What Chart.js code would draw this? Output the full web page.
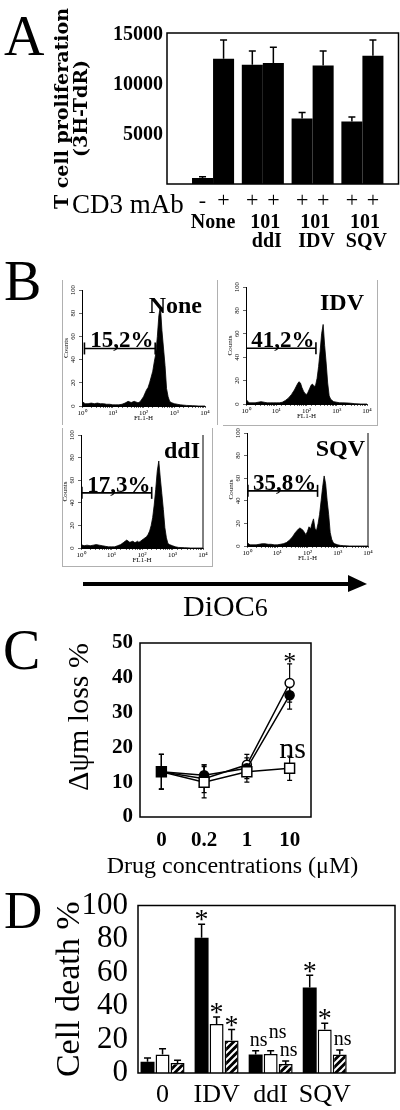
<!DOCTYPE html>
<html><head><meta charset="utf-8">
<script src="https://cdn.jsdelivr.net/npm/chart.js@4.4.1/dist/chart.umd.min.js"></script>
<style>
html,body{margin:0;padding:0;background:#fff;}
body{position:relative;width:400px;height:1110px;overflow:hidden;}
canvas{position:absolute;}
.lt{position:absolute;font-family:"Liberation Serif","Times New Roman",serif;color:#000;line-height:1;white-space:nowrap;}
.gb{position:absolute;background:#b0b0b0;}
</style></head><body>
<div class="lt" style="left:4px;top:8px;font-size:56px">A</div>
<div class="lt" style="left:4px;top:253px;font-size:56px">B</div>
<div class="lt" style="left:3px;top:622px;font-size:56px">C</div>
<div class="lt" style="left:4px;top:884px;font-size:53px">D</div>

<div class="gb" style="left:62px;top:280px;width:1px;height:145px"></div>
<div class="gb" style="left:217px;top:280px;width:1px;height:145px"></div>
<div class="gb" style="left:377px;top:280px;width:1px;height:145px"></div>
<div class="gb" style="left:223px;top:425px;width:155px;height:1px"></div>
<div class="gb" style="left:62px;top:428px;width:1px;height:138px"></div>
<div class="gb" style="left:62px;top:566px;width:151px;height:1px"></div>
<div class="gb" style="left:212px;top:428px;width:1px;height:138px"></div>

<canvas id="cA" width="400" height="252" style="left:0;top:0"></canvas>
<canvas id="cB1" width="151" height="140" style="left:62px;top:282px"></canvas>
<canvas id="cB2" width="149" height="141" style="left:226px;top:279px"></canvas>
<canvas id="cB3" width="150" height="137" style="left:61px;top:427px"></canvas>
<canvas id="cB4" width="149" height="137" style="left:227px;top:425px"></canvas>
<canvas id="cC" width="400" height="265" style="left:0;top:620px"></canvas>
<canvas id="cD" width="400" height="230" style="left:0;top:880px"></canvas>

<svg style="position:absolute;left:0;top:560px" width="400" height="40">
  <line x1="83" y1="24" x2="352" y2="24" stroke="#000" stroke-width="4"/>
  <polygon points="348,15 367,24 348,32" fill="#000"/>
</svg>
<div class="lt" style="left:183px;top:591px;font-size:30px">DiOC<span style="font-size:26px">6</span></div>

<script>
const SERIF = '"Liberation Serif", "Times New Roman", serif';
const WIDE = '"DejaVu Serif", serif';
const sup = ['\u2070', '\u00B9', '\u00B2', '\u00B3', '\u2074'];

// ---------- Panel A : T cell proliferation ----------
const groupsA = ['None', 'ddI', 'IDV', 'SQV'];
const cd3SignsA = ['-', '+', '+', '+', '+', '+', '+', '+'];
const concA = ['', '', '10', '1', '10', '1', '10', '1'];
const firstBarA = [600, 12000, 6600, 6300];
const firstErrA = [120, 1400, 600, 450];
const secondBarA = [12600, 12170, 11930, 12900];
const secondErrA = [1900, 1600, 1450, 1600];
const yTicksA = [5000, 10000, 15000];

// ---------- Panel B : DiOC6 histograms ----------
const flChannels = [1, 1.26, 1.58, 2, 2.51, 3.16, 3.98, 5.01, 6.31, 7.94,
  10, 12.6, 15.8, 20, 25.1, 31.6, 39.8, 50.1, 56.2, 63.1, 70.8, 79.4, 89.1,
  100, 112, 126, 141, 158, 178, 200, 224, 251, 282, 316, 355, 398, 447, 501,
  562, 631, 708, 794, 1000, 1259, 1585, 2512, 3981, 6310, 10000];
const countsNone = [4,2,2,2.5,2,2.5,2,2,1.5,1.5, 1,1,1,1.5,2.5,4,3,4, 3.5,3,3,4,6,
  8,11,14,16,20,25,30,38,45,60, 78,86,65,50,35,15,8,4,3, 2,1.5,1,0.5,0.3,0,0];
const countsIDV = [4,1,1,1,1.5,2,1.5,1,1,1, 1,1,1.5,3,5,8,12,17, 19,18,14,11,9,
  8,10,13,16,17,15,16,22,32,45, 60,68,50,35,18,7,4,3,2, 1.5,1,1,0.8,0.3,0,0];
const countsDdI = [3,2,2.5,2,2.5,3,2.5,2,1.5,1, 1,1,2,3,5,7,5,6, 5,5,6,5,6,
  7,8,9,10,12,15,20,27,38,52, 68,77,62,48,34,18,9,4,3, 2,1,0.5,0.3,0,0,0];
const countsSQV = [3,1,1,1,1.5,2,2,1.5,1.5,1, 1,1.5,2,3,5,8,12,15, 16,15,14,12,10,
  13,17,15,20,24,15,14,20,28,40, 52,62,55,40,28,12,6,3,2, 1,0.5,0.3,0,0,0,0];
const sampleNames = ['None', 'IDV', 'ddI', 'SQV'];
const gatePercents = ['15,2%', '41,2%', '17,3%', '35,8%'];
const gateStart = [1.2, 1.0, 1.07, 1.07];
const gateEnd = [240, 205, 208, 215];
const gateLevel = [49.6, 47.6, 48.8, 48.8];

// ---------- Panel C : mitochondrial potential loss ----------
const concC = ['0', '0.2', '1', '10'];
const ddiC = [13, 10, 13, 14];
const ddiErrC = [5, 4.5, 3, 3.5];
const sqvC = [13, 12, 14, 35];
const sqvErrC = [5, 3, 3, 4];
const idvC = [13, 11, 15, 38.5];
const idvErrC = [5, 4, 3, 5.5];
const sigIdvC = ['', '', '', '*'];
const sigDdiC = ['', '', '', 'ns'];

// ---------- Panel D : cell death ----------
const groupsD = ['0', 'IDV', 'ddI', 'SQV'];
const blackD = [6.7, 80.8, 11, 51];
const blackErrD = [2.3, 8, 2.3, 7.3];
const whiteD = [11, 29.3, 11.4, 25.9];
const whiteErrD = [3.5, 4.2, 1.9, 3.8];
const hatchD = [6, 19.4, 5.3, 11];
const hatchErrD = [1.6, 6.6, 1.9, 2.7];
const sigBlackD = ['', '*', 'ns', '*'];
const sigWhiteD = ['', '*', 'ns', '*'];
const sigHatchD = ['', '*', 'ns', 'ns'];

Chart.defaults.animation = false;
Chart.defaults.color = '#000';
Chart.defaults.font.family = SERIF;

const valOf = d => (d !== null && typeof d === 'object') ? d.y : d;

const errPlugin = {
  id: 'err',
  beforeDatasetsDraw(chart, args, opts) {
    const ctx = chart.ctx, ys = chart.scales.y;
    chart.data.datasets.forEach((ds, di) => {
      if (!ds.errors) return;
      const meta = chart.getDatasetMeta(di);
      ctx.save(); ctx.strokeStyle = '#000'; ctx.lineWidth = opts.width || 1.5;
      meta.data.forEach((el, i) => {
        const v = valOf(ds.data[i]), e = ds.errors[i];
        const yTop = ys.getPixelForValue(v + e);
        const yBot = ys.getPixelForValue(opts.both ? v - e : v);
        const x = el.x, c = opts.cap;
        ctx.beginPath();
        ctx.moveTo(x, yBot); ctx.lineTo(x, yTop);
        ctx.moveTo(x - c, yTop); ctx.lineTo(x + c, yTop);
        if (opts.both) { ctx.moveTo(x - c, yBot); ctx.lineTo(x + c, yBot); }
        ctx.stroke();
      });
      ctx.restore();
    });
  }
};

const frame = {
  id: 'frame',
  afterDraw(chart, args, opts) {
    const a = chart.chartArea, ctx = chart.ctx;
    ctx.save(); ctx.strokeStyle = '#000'; ctx.lineWidth = opts.width || 1.5;
    ctx.strokeRect(a.left, a.top, a.right - a.left, a.bottom - a.top);
    ctx.restore();
  }
};

const sigPlugin = {
  id: 'sig',
  afterDatasetsDraw(chart, args, opts) {
    const ctx = chart.ctx, ys = chart.scales.y;
    chart.data.datasets.forEach((ds, di) => {
      if (!ds.sig) return;
      const els = chart.getDatasetMeta(di).data;
      ds.sig.forEach((t, i) => {
        if (!t) return;
        const top = ys.getPixelForValue(valOf(ds.data[i]) + (ds.errors ? ds.errors[i] : 0));
        ctx.save(); ctx.fillStyle = '#000'; ctx.textAlign = 'center'; ctx.textBaseline = 'alphabetic';
        if (t === '*') {
          ctx.font = opts.starSize + 'px ' + SERIF;
          ctx.fillText('*', els[i].x + (opts.starDx || 0), top - (ds.starGap ?? opts.starGap) + 0.47 * opts.starSize);
        } else {
          ctx.font = opts.nsSize + 'px ' + SERIF;
          ctx.fillText(t, els[i].x + (ds.nsDx ?? opts.nsDx), top - (ds.nsGap ?? opts.nsGap));
        }
        ctx.restore();
      });
    });
  }
};

// free axis title drawn without width squeezing
const xTitle = {
  id: 'xTitle',
  afterDraw(chart, args, opts) {
    const a = chart.chartArea, ctx = chart.ctx;
    ctx.save(); ctx.fillStyle = '#000'; ctx.font = opts.font; ctx.textAlign = 'center'; ctx.textBaseline = 'alphabetic';
    ctx.fillText(opts.text, (a.left + a.right) / 2 + opts.dx, a.bottom + opts.dy);
    ctx.restore();
  }
};

// ---------- Panel A chart ----------
const labelsA = {
  id: 'labelsA',
  afterDraw(chart) {
    const ctx = chart.ctx, a = chart.chartArea;
    const m0 = chart.getDatasetMeta(0).data, m1 = chart.getDatasetMeta(1).data;
    ctx.save(); ctx.fillStyle = '#000';
    ctx.textAlign = 'left'; ctx.textBaseline = 'alphabetic';
    ctx.font = '27px ' + SERIF;
    ctx.fillText('CD3 mAb', 72, a.bottom + 29);
    ctx.textAlign = 'center'; ctx.textBaseline = 'middle';
    ctx.font = '22px ' + SERIF;
    groupsA.forEach((g, i) => {
      ctx.fillText(cd3SignsA[2 * i], m0[i].x, a.bottom + 17);
      ctx.fillText(cd3SignsA[2 * i + 1], m1[i].x, a.bottom + 17);
    });
    ctx.textBaseline = 'alphabetic';
    ctx.font = 'bold 20px ' + SERIF;
    groupsA.forEach((g, i) => {
      const mid = (m0[i].x + m1[i].x) / 2;
      if (!concA[2 * i]) {
        ctx.fillText(g, mid, a.bottom + 44);
      } else {
        ctx.textAlign = 'right';
        ctx.fillText(concA[2 * i], m1[i].x - 3, a.bottom + 44);
        ctx.textAlign = 'left';
        ctx.fillText(concA[2 * i + 1], m1[i].x - 3, a.bottom + 44);
        ctx.textAlign = 'center';
        ctx.fillText(g, mid + 4, a.bottom + 63);
      }
    });
    ctx.restore();
  }
};

new Chart(document.getElementById('cA'), {
  type: 'bar',
  data: {
    datasets: [
      { label: 'CD3 (first of pair)', data: groupsA.map((g, i) => ({ x: i, y: firstBarA[i] })),
        backgroundColor: '#000', errors: firstErrA },
      { label: 'CD3 (second of pair)', data: groupsA.map((g, i) => ({ x: i, y: secondBarA[i] })),
        backgroundColor: '#000', errors: secondErrA }
    ]
  },
  options: {
    responsive: false, events: [],
    layout: { padding: { top: 33, right: 1.5, bottom: 68, left: 0 } },
    datasets: { bar: { categoryPercentage: 0.845, barPercentage: 1 } },
    plugins: { legend: { display: false }, tooltip: { enabled: false },
      err: { cap: 3.5, width: 1.5 }, frame: { width: 1.5 } },
    scales: {
      x: { type: 'linear', min: -0.925, max: 3.725, offset: false, display: false },
      y: {
        min: 0, max: 15200,
        afterFit(s) { s.width = 167; },
        afterBuildTicks(s) { s.ticks = yTicksA.map(v => ({ value: v })); },
        ticks: { font: { family: SERIF, size: 20, weight: 'bold' }, color: '#000', padding: 4,
          callback(v) { return String(v); } },
        grid: { display: false, drawTicks: false },
        border: { display: false },
        title: { display: true, text: ['T cell proliferation', '(3H-TdR)'],
          font: { family: WIDE, size: 19, weight: 'bold', lineHeight: 1.0 }, color: '#000',
          padding: { top: 54, bottom: 0 } }
      }
    }
  },
  plugins: [errPlugin, frame, labelsA]
});

// ---------- Panel B charts ----------
const histLabels = {
  id: 'histLabels',
  afterDraw(chart, args, opts) {
    const ctx = chart.ctx, a = chart.chartArea;
    const g = chart.getDatasetMeta(1).data;
    ctx.save(); ctx.fillStyle = '#000'; ctx.strokeStyle = '#000';
    ctx.textBaseline = 'alphabetic';
    ctx.font = 'bold 23px ' + SERIF; ctx.textAlign = 'center';
    ctx.fillText(opts.pct, (g[0].x + g[1].x) / 2 + 2, g[0].y - 1);
    ctx.font = 'bold 24px ' + SERIF; ctx.textAlign = 'right';
    ctx.fillText(opts.name, a.right - 3, a.top + 23);
    if (opts.rightBorder) {
      ctx.lineWidth = 1; ctx.beginPath();
      ctx.moveTo(a.right, a.top); ctx.lineTo(a.right, a.bottom); ctx.stroke();
    }
    ctx.restore();
  }
};

function histo(id, counts, gi) {
  return new Chart(document.getElementById(id), {
    type: 'line',
    data: {
      datasets: [
        { label: sampleNames[gi], data: flChannels.map((x, i) => ({ x: x, y: counts[i] })),
          fill: 'origin', backgroundColor: '#000', borderColor: '#000', borderWidth: 0.8,
          pointRadius: 0, tension: 0 },
        { label: 'gate', data: [{ x: gateStart[gi], y: gateLevel[gi] }, { x: gateEnd[gi], y: gateLevel[gi] }],
          borderColor: '#000', borderWidth: 1.6, fill: false, pointStyle: 'line', pointRotation: 90,
          pointRadius: 6, pointBorderWidth: 1.6, pointBorderColor: '#000' }
      ]
    },
    options: {
      responsive: false, events: [],
      layout: { padding: { top: 8, right: 8, left: 0, bottom: 0 } },
      plugins: { legend: { display: false }, tooltip: { enabled: false },
        histLabels: { pct: gatePercents[gi], name: sampleNames[gi], rightBorder: gi >= 2 } },
      scales: {
        x: {
          type: 'logarithmic', min: 1, max: 10000,
          afterFit(s) { s.height = 16; },
          ticks: { autoSkip: false, maxRotation: 0, minRotation: 0, padding: 1,
            font: { family: SERIF, size: 7 }, color: '#000',
            callback(v) { const p = Math.log10(v); const r = Math.round(p);
              return Math.abs(p - r) < 1e-6 ? '10' + sup[r] : ''; } },
          grid: { display: true, drawOnChartArea: false, drawTicks: true, tickLength: 2, color: '#000', lineWidth: 0.6 },
          border: { display: true, color: '#000', width: 1 },
          title: { display: true, text: 'FL1-H', font: { family: SERIF, size: 7 }, color: '#000', padding: 0 }
        },
        y: {
          min: 0, max: 100,
          afterFit(s) { s.width = 20; },
          ticks: { stepSize: 20, minRotation: 90, maxRotation: 90, crossAlign: 'center', padding: 1,
            font: { family: SERIF, size: 6.5 }, color: '#000' },
          grid: { display: true, drawOnChartArea: false, drawTicks: true, tickLength: 3, color: '#000', lineWidth: 0.6 },
          border: { display: true, color: '#000', width: 1 },
          title: { display: true, text: 'Counts', font: { family: SERIF, size: 7 }, color: '#000', padding: 0 }
        }
      }
    },
    plugins: [histLabels]
  });
}
histo('cB1', countsNone, 0);
histo('cB2', countsIDV, 1);
histo('cB3', countsDdI, 2);
histo('cB4', countsSQV, 3);

// ---------- Panel C chart ----------
new Chart(document.getElementById('cC'), {
  type: 'line',
  data: {
    labels: concC,
    datasets: [
      { label: 'ddI', data: ddiC, errors: ddiErrC, sig: sigDdiC,
        borderColor: '#000', borderWidth: 1.5, pointStyle: 'rect', pointRadius: 7,
        pointBorderWidth: 1.5, pointBorderColor: '#000',
        pointBackgroundColor: ['#000', '#fff', '#fff', '#fff'] },
      { label: 'SQV', data: sqvC, errors: sqvErrC,
        borderColor: '#000', borderWidth: 1.5, pointStyle: 'circle', pointRadius: 4.5,
        pointBorderWidth: 1.5, pointBorderColor: '#000', pointBackgroundColor: '#000' },
      { label: 'IDV', data: idvC, errors: idvErrC, sig: sigIdvC,
        borderColor: '#000', borderWidth: 1.5, pointStyle: 'circle', pointRadius: 4.5,
        pointBorderWidth: 1.5, pointBorderColor: '#000', pointBackgroundColor: '#fff' }
    ]
  },
  options: {
    responsive: false, events: [],
    layout: { padding: { top: 23, right: 89, left: 0, bottom: 0 } },
    plugins: { legend: { display: false }, tooltip: { enabled: false },
      err: { cap: 2.5, width: 1.2, both: true }, frame: { width: 1.5 },
      sig: { starSize: 26, starGap: 6, nsSize: 30, nsGap: -2, nsDx: 3 },
      xTitle: { text: 'Drug concentrations (\u03BCM)', font: '24px ' + SERIF, dx: 7, dy: 56 } },
    scales: {
      x: {
        offset: true,
        afterFit(s) { s.height = 68; },
        ticks: { font: { family: SERIF, size: 21, weight: 'bold' }, color: '#000', padding: 11 },
        grid: { display: false, drawTicks: false }, border: { display: false }
      },
      y: {
        min: 0, max: 50,
        afterFit(s) { s.width = 140; },
        ticks: { stepSize: 10, font: { family: SERIF, size: 21, weight: 'bold' }, color: '#000', padding: 7 },
        grid: { display: false, drawTicks: false }, border: { display: false },
        title: { display: true, align: 'end', text: '\u0394\u03C8m loss %', font: { family: SERIF, size: 30 },
          color: '#000', padding: { top: 62, bottom: 0 } }
      }
    }
  },
  plugins: [errPlugin, frame, sigPlugin, xTitle]
});

// ---------- Panel D chart ----------
function hatchPattern() {
  const s = 7, c = document.createElement('canvas');
  c.width = s; c.height = s;
  const g = c.getContext('2d');
  g.fillStyle = '#000'; g.fillRect(0, 0, s, s);
  g.strokeStyle = '#fff'; g.lineWidth = 2;
  g.beginPath();
  g.moveTo(-1, s + 1); g.lineTo(s + 1, -1);
  g.moveTo(-s / 2 - 1, s / 2 + 1); g.lineTo(s / 2 + 1, -s / 2 - 1);
  g.moveTo(s / 2 - 1, s * 1.5 + 1); g.lineTo(s * 1.5 + 1, s / 2 - 1);
  g.stroke();
  return g.createPattern(c, 'repeat');
}
const ctxD = document.getElementById('cD').getContext('2d');
new Chart(ctxD, {
  type: 'bar',
  data: {
    datasets: [
      { label: 'black', data: groupsD.map((g, i) => ({ x: i, y: blackD[i] })), errors: blackErrD, sig: sigBlackD,
        backgroundColor: '#000', borderColor: '#000', borderWidth: 0 },
      { label: 'white', data: groupsD.map((g, i) => ({ x: i, y: whiteD[i] })), errors: whiteErrD, sig: sigWhiteD,
        backgroundColor: '#fff', borderColor: '#000', borderWidth: 1.5, nsGap: 13, nsDx: 7 },
      { label: 'hatched', data: groupsD.map((g, i) => ({ x: i, y: hatchD[i] })), errors: hatchErrD, sig: sigHatchD,
        backgroundColor: hatchPattern(), borderColor: '#000', borderWidth: 1.5 }
    ]
  },
  options: {
    responsive: false, events: [],
    layout: { padding: { top: 18, right: 5, left: 0, bottom: 0 } },
    datasets: { bar: { categoryPercentage: 0.833, barPercentage: 0.93, borderSkipped: 'bottom' } },
    plugins: { legend: { display: false }, tooltip: { enabled: false },
      err: { cap: 3.5, width: 1.5 }, frame: { width: 1.5 },
      sig: { starSize: 28, starGap: 9, nsSize: 20, nsGap: 5, nsDx: 3 } },
    scales: {
      x: {
        type: 'linear', min: -0.454, max: 4.3, offset: false,
        afterFit(s) { s.height = 37; },
        afterBuildTicks(s) { s.ticks = groupsD.map((g, i) => ({ value: i })); },
        ticks: { autoSkip: false, maxRotation: 0, font: { family: SERIF, size: 26 }, color: '#000', padding: 7,
          callback(v) { return groupsD[v] ?? ''; } },
        grid: { display: false, drawTicks: false }, border: { display: false }
      },
      y: {
        min: 0, max: 100,
        afterFit(s) { s.width = 138; },
        ticks: { stepSize: 20, autoSkip: false, font: { family: SERIF, size: 31, lineHeight: 1 }, color: '#000', padding: 10 },
        grid: { display: false, drawTicks: false }, border: { display: false },
        title: { display: true, text: 'Cell death %', font: { family: SERIF, size: 34, lineHeight: 1 },
          color: '#000', padding: { top: 53, bottom: 0 } }
      }
    }
  },
  plugins: [errPlugin, frame, sigPlugin]
});
</script>
</body></html>
